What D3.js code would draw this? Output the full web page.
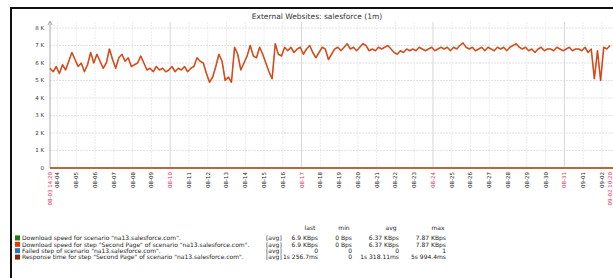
<!DOCTYPE html>
<html>
<head>
<meta charset="utf-8">
<script src="https://cdn.jsdelivr.net/npm/d3@7"></script>
<style>
  body { margin: 0; background: #fff; }
  svg { display: block; font-family: "DejaVu Sans", sans-serif; }
</style>
</head>
<body>
<svg id="chart"></svg>
<script>
const width = 613;
const height = 278;

const title = 'External Websites: salesforce (1m)';

// one sample every 4 hours, from start to end
const startTime = '2009-08-03 14:20';
const endTime = '2009-09-02 10:20';
const stepHours = 4;

// download speed in KBps
const speedK = [
  5.7, 5.5, 5.8, 5.4, 5.9, 5.6, 6.1, 6.6, 6.2, 5.8, 6.0, 5.5, 5.9, 6.6, 6.0, 6.5,
  6.1, 5.7, 6.0, 6.8, 6.2, 5.7, 6.3, 6.5, 6.1, 6.3, 5.8, 5.9, 6.0, 6.4, 6.0,
  5.6, 5.7, 5.5, 5.8, 5.6, 5.7, 5.5, 5.6, 5.8, 5.5, 5.7, 5.6, 5.8, 5.5, 5.7, 5.8, 6.3, 6.1,
  6.0, 5.4, 4.9, 5.2, 5.8, 6.5, 6.1, 5.0, 5.2, 4.9, 6.9, 6.5, 5.6, 6.0, 6.4, 7.0,
  6.4, 6.3, 6.9, 6.5, 6.0, 5.5, 5.1, 7.1, 6.5, 6.4, 6.9,
  6.7, 6.9, 6.6, 6.8, 6.9, 6.5, 6.8, 7.0, 6.6, 6.3, 6.6, 6.9, 6.8, 6.2, 6.5, 6.8,
  6.9, 6.7, 6.9, 7.1, 6.8, 6.9, 6.7, 6.9, 7.1, 7.0, 6.7, 6.8, 6.7, 6.9, 6.8, 6.9,
  7.0, 6.8, 6.6, 6.5, 6.7, 6.6, 6.8, 6.7, 6.8, 6.7, 6.9, 6.8, 6.7, 6.8, 6.9, 6.7,
  6.8, 6.9, 6.8, 6.9, 6.7, 6.9, 6.8, 7.0, 7.15, 6.9, 6.8, 6.9, 6.7, 6.8, 6.9, 6.7,
  6.9, 6.8, 6.7, 6.9, 6.8, 6.9, 6.7, 6.9, 7.0, 7.1, 6.9, 6.8, 6.9, 6.7, 6.8, 6.6,
  6.8, 6.9, 6.7, 6.8, 6.8, 6.7, 6.9, 6.8, 6.7, 6.8, 6.9, 6.7, 6.8, 6.8, 6.7, 6.9,
  6.6, 6.8, 5.1, 6.7, 5.0, 6.9, 6.8, 7.0
];

const yTicks = [0, 1, 2, 3, 4, 5, 6, 7, 8];
const yTickLabels = ['0', '1 K', '2 K', '3 K', '4 K', '5 K', '6 K', '7 K', '8 K'];

const dayLabels = [
  '08-04', '08-05', '08-06', '08-07', '08-08', '08-09', '08-10', '08-11', '08-12',
  '08-13', '08-14', '08-15', '08-16', '08-17', '08-18', '08-19', '08-20', '08-21',
  '08-22', '08-23', '08-24', '08-25', '08-26', '08-27', '08-28', '08-29', '08-30',
  '08-31', '09-01', '09-02'
];
const weekLabels = ['08-10', '08-17', '08-24', '08-31'];
const edgeLabels = ['08-03 14:20', '09-02 10:20'];

const legendNames = [
  'Download speed for scenario "na13.salesforce.com".',
  'Download speed for step "Second Page" of scenario "na13.salesforce.com".',
  'Failed step of scenario "na13.salesforce.com".',
  'Response time for step "Second Page" of scenario "na13.salesforce.com".'
];
const legendColors = ['#1a7c11', '#f63100', '#2774c2', '#8b2a0a'];
const statHeaders = ['last', 'min', 'avg', 'max'];
const lastVals = ['6.9 KBps', '6.9 KBps', '0', '1s 256.7ms'];
const minVals = ['0 Bps', '0 Bps', '0', '0'];
const avgVals = ['6.37 KBps', '6.37 KBps', '0', '1s 318.11ms'];
const maxVals = ['7.87 KBps', '7.87 KBps', '1', '5s 994.4ms'];

const parse = d3.timeParse('%Y-%m-%d %H:%M');
const t0 = parse(startTime);
const data = speedK.map((v, i) => ({
  t: new Date(t0.getTime() + i * stepHours * 3600e3),
  v: v
}));

const svg = d3.select('#chart')
  .attr('width', width)
  .attr('height', height);

svg.append('rect').attr('width', width).attr('height', height).attr('fill', '#fff');

const x = d3.scaleTime()
  .domain([t0, parse(endTime)])
  .range([50, 610]);
const y = d3.scaleLinear()
  .domain([0, 8])
  .range([168, 28]);

// frame
svg.append('line').attr('x1', 10).attr('x2', width).attr('y1', 8).attr('y2', 8)
  .attr('stroke', '#111').attr('stroke-width', 2);
svg.append('line').attr('x1', 11).attr('x2', 11).attr('y1', 7).attr('y2', height)
  .attr('stroke', '#111').attr('stroke-width', 2);

svg.append('text')
  .attr('x', 317).attr('y', 19)
  .attr('text-anchor', 'middle')
  .attr('font-size', 7.5)
  .attr('fill', '#333')
  .text(title);

const year = '2009-';
const dayPos = s => x(parse(year + s + ' 00:00'));

// grid
const grid = svg.append('g');
grid.selectAll('.hg').data(yTicks.slice(1)).enter().append('line')
  .attr('x1', 50).attr('x2', width)
  .attr('y1', d => y(d)).attr('y2', d => y(d))
  .attr('stroke', '#e2e2e2').attr('stroke-dasharray', '2,1');
grid.selectAll('.vg').data(dayLabels).enter().append('line')
  .attr('x1', dayPos).attr('x2', dayPos)
  .attr('y1', 22).attr('y2', 168)
  .attr('stroke', d => weekLabels.includes(d) ? '#d6d6d6' : '#ececec')
  .attr('stroke-dasharray', d => weekLabels.includes(d) ? null : '2,1');

// y axis
svg.append('line').attr('x1', 50).attr('x2', 50).attr('y1', 22).attr('y2', 168)
  .attr('stroke', '#aaa');
svg.append('path').attr('d', 'M48,25 L50,21 L52,25').attr('fill', 'none').attr('stroke', '#aaa');
svg.selectAll('.yl').data(yTicks).enter().append('text')
  .attr('x', 44).attr('y', d => y(d))
  .attr('dy', '0.35em')
  .attr('text-anchor', 'end')
  .attr('font-size', 5.5)
  .attr('fill', '#333')
  .text((d, i) => yTickLabels[i]);

// series (green one is hidden under the red one)
const line = d3.line().x(d => x(d.t)).y(d => y(d.v));
svg.append('path').datum(data)
  .attr('d', line)
  .attr('fill', 'none')
  .attr('stroke', '#de5d2a')
  .attr('stroke-width', 1.6)
  .attr('stroke-linejoin', 'round');
svg.append('path').datum(data)
  .attr('d', line)
  .attr('fill', 'none')
  .attr('stroke', '#c0300c')
  .attr('stroke-width', 0.6)
  .attr('opacity', 0.75);

// zero line (failed step / response time series)
svg.append('line').attr('x1', 50).attr('x2', width).attr('y1', y(0)).attr('y2', y(0))
  .attr('stroke', '#b8683a').attr('stroke-width', 2);

// x labels
const xl = svg.append('g').attr('font-size', 5.5);
xl.selectAll('.dl').data(dayLabels).enter().append('text')
  .attr('transform', d => `translate(${dayPos(d)},172) rotate(-90)`)
  .attr('dy', '0.35em')
  .attr('text-anchor', 'end')
  .attr('fill', d => weekLabels.includes(d) ? '#e0305a' : '#222')
  .text(d => d);
xl.selectAll('.el').data(edgeLabels).enter().append('text')
  .attr('transform', (d, i) => `translate(${x.range()[i]},172) rotate(-90)`)
  .attr('dy', '0.35em')
  .attr('text-anchor', 'end')
  .attr('fill', '#e0305a')
  .text(d => d);

// legend
const lg = svg.append('g').attr('font-size', 6).attr('fill', '#222');
const rowY = i => 238 + i * 6.4;
const cols = [318, 352, 399, 446];
statHeaders.forEach((h, j) => {
  lg.append('text').attr('x', cols[j] - 8).attr('y', 230).attr('text-anchor', 'middle').text(h);
});
legendNames.forEach((name, i) => {
  lg.append('rect').attr('x', 15).attr('y', rowY(i) - 2.6).attr('width', 5).attr('height', 5)
    .attr('fill', legendColors[i]);
  lg.append('text').attr('x', 22).attr('y', rowY(i)).attr('dy', '0.35em').text(name);
  lg.append('text').attr('x', 266).attr('y', rowY(i)).attr('dy', '0.35em').text('[avg]');
  [lastVals, minVals, avgVals, maxVals].forEach((arr, j) => {
    lg.append('text').attr('x', cols[j]).attr('y', rowY(i)).attr('dy', '0.35em')
      .attr('text-anchor', 'end').text(arr[i]);
  });
});
</script>
</body>
</html>
